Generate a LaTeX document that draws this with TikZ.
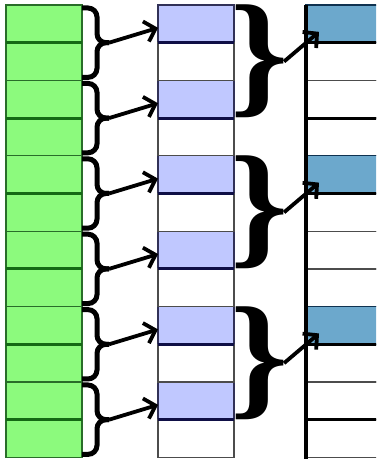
\documentclass[tikz,border=0pt]{standalone}
\usepackage{fontspec}
\usepackage{xcolor}
\usepackage{graphicx}
\usepackage{tikz}
\usetikzlibrary{arrows.meta, positioning, calc}

\newfontfamily\bracefont{Liberation Serif}

\definecolor{cellgreen}{RGB}{140,250,125}
\definecolor{edgegreen}{RGB}{20,105,20}
\definecolor{cellblue}{RGB}{192,200,255}
\definecolor{edgeblue}{RGB}{15,15,70}
\definecolor{celldark}{RGB}{108,168,204}
\definecolor{edgedark}{RGB}{15,50,80}

\tikzset{
  cell/.style={draw=black!70, line width=1.3pt, minimum height=37.7pt, inner sep=0pt, outer sep=0pt},
  lcell/.style={cell, minimum width=76pt, fill=cellgreen, draw=edgegreen!80!gray},
  mcell/.style={cell, minimum width=76pt},
  bcell/.style={mcell, fill=cellblue, draw=edgeblue!70!gray},
  rcell/.style={cell, minimum width=90pt},
  dcell/.style={rcell, fill=celldark, draw=edgedark},
  rule/.style={line width=3pt},
  curly/.style={line width=5pt, rounded corners=9pt},
  bigcurly/.style={anchor=west, inner sep=0pt, outer sep=0pt},
  link/.style={->, line width=3.8pt},
}

\begin{document}
\begin{tikzpicture}[x=1pt, y=1pt, >={Straight Barb[length=10pt,width=21pt]}]
  \useasboundingbox (0,0) rectangle (376,459);
  \clip (0,0) rectangle (376,459);

  % three columns of cells
  \foreach \i in {0,...,11} {
    \node[lcell] (l\i) at (44, {454-(\i+0.5)*37.7}) {};
  }
  \foreach \i in {0,2,...,10} {
    \node[bcell] (m\i) at (196, {454-(\i+0.5)*37.7}) {};
  }
  \foreach \i in {1,3,...,11} {
    \node[mcell] (m\i) at (196, {454-(\i+0.5)*37.7}) {};
  }
  \foreach \i in {1,2,3,5,6,7,9,10,11} {
    \node[rcell] (r\i) at (351, {454-(\i+0.5)*37.7}) {};
  }
  \foreach \i in {0,4,8} {
    \node[dcell] (r\i) at (351, {454-(\i+0.5)*37.7}) {};
  }
  % heavier rules under the marked cells
  \foreach \i in {0,2,...,10} {
    \draw[rule, edgegreen] (l\i.south west) -- (l\i.south east);
    \draw[rule, edgeblue] (m\i.south west) -- (m\i.south east);
  }
  \foreach \i in {0,2,4,8,10} {
    \draw[rule, black] (r\i.south west) -- (r\i.south east);
  }
  \draw[line width=3.5pt] (r0.north west) -- ([yshift=-5pt]r11.south west);

  % pairs of green cells -> blue cells
  \foreach \k in {0,...,5} {
    \pgfmathtruncatemacro{\a}{2*\k}
    \pgfmathtruncatemacro{\b}{2*\k+1}
    \coordinate (lt\k) at ($(l\a.south east)+(27,0)$);
    \draw[curly] ([yshift=-3pt]l\a.north east) -- ([xshift=15pt,yshift=-3pt]l\a.north east)
      -- ([xshift=15pt]l\a.south east) -- (lt\k);
    \draw[curly] ([yshift=3pt]l\b.south east) -- ([xshift=15pt,yshift=3pt]l\b.south east)
      -- ([xshift=15pt]l\b.north east) -- (lt\k);
    \draw[link] (lt\k) -- ([yshift=-4pt]m\a.west);
  }

  % groups of blue cells -> dark cells
  \foreach \j in {0,1,2} {
    \pgfmathtruncatemacro{\a}{4*\j}
    \pgfmathtruncatemacro{\b}{4*\j+1}
    \node[bigcurly] (mb\j) at ([xshift=-4pt]m\b.east)
      {\resizebox*{58pt}{113pt}{\bracefont\bfseries\}}};
    \draw[link] ([xshift=-4pt]mb\j.east) -- ([shift={(13pt,-8pt)}]r\a.west);
  }
\end{tikzpicture}
\end{document}
